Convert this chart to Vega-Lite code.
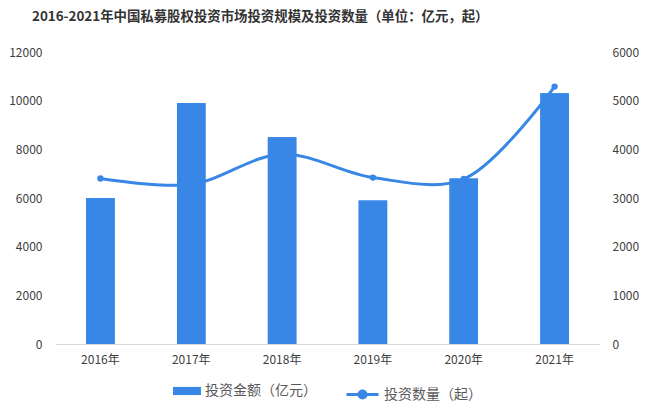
{
  "$schema": "https://vega.github.io/schema/vega-lite/v6.json",
  "width": 545,
  "height": 292,
  "autosize": {"type": "none"},
  "padding": {"left": 55, "top": 52, "right": 50, "bottom": 67},
  "title": {
    "text": "2016-2021年中国私募股权投资市场投资规模及投资数量（单位：亿元，起）",
    "anchor": "start",
    "frame": "group",
    "dx": -23,
    "offset": 23,
    "fontSize": 13.4,
    "fontWeight": "bold",
    "font": "Noto Sans CJK SC",
    "color": "#333333"
  },
  "data": {
    "values": [
      {"year": "2016年", "amount": 6000, "count": 3400},
      {"year": "2017年", "amount": 9900, "count": 3280},
      {"year": "2018年", "amount": 8500, "count": 3900},
      {"year": "2019年", "amount": 5900, "count": 3420},
      {"year": "2020年", "amount": 6800, "count": 3390},
      {"year": "2021年", "amount": 10300, "count": 5290}
    ]
  },
  "encoding": {
    "x": {
      "field": "year",
      "type": "nominal",
      "sort": null,
      "scale": {"paddingInner": 0.686, "paddingOuter": 0.343},
      "axis": {
        "title": null,
        "labelAngle": 0,
        "ticks": false,
        "domainColor": "#D9D9D9",
        "labelPadding": 10,
        "labelFontSize": 12,
        "labelColor": "#404040",
        "labelFont": "Noto Sans CJK SC"
      }
    }
  },
  "layer": [
    {
      "mark": {"type": "bar"},
      "encoding": {
        "y": {
          "field": "amount",
          "type": "quantitative",
          "scale": {"domain": [0, 12000], "nice": false},
          "axis": {
            "orient": "left",
            "title": null,
            "values": [0, 2000, 4000, 6000, 8000, 10000, 12000],
            "format": "d",
            "grid": false,
            "ticks": false,
            "domain": false,
            "labelPadding": 13,
            "labelFontSize": 12,
            "labelColor": "#404040",
            "labelFont": "Noto Sans CJK SC"
          }
        },
        "fill": {
          "datum": "投资金额（亿元）",
          "scale": {"range": ["#3886E6"]},
          "legend": {
            "title": null,
            "orient": "bottom",
            "offset": 12,
            "symbolType": "M-1,-0.29H1V0.29H-1Z",
            "symbolSize": 784,
            "symbolStrokeWidth": 0,
            "labelFontSize": 14,
            "labelColor": "#595959",
            "labelFont": "Noto Sans CJK SC",
            "labelOffset": 4
          }
        }
      }
    },
    {
      "mark": {"type": "line", "interpolate": "catmull-rom", "strokeWidth": 3, "color": "#3886E6"},
      "encoding": {
        "y": {
          "field": "count",
          "type": "quantitative",
          "scale": {"domain": [0, 6000], "nice": false},
          "axis": {
            "orient": "right",
            "title": null,
            "values": [0, 1000, 2000, 3000, 4000, 5000, 6000],
            "format": "d",
            "grid": false,
            "ticks": false,
            "domain": false,
            "labelPadding": 12,
            "labelFontSize": 12,
            "labelColor": "#404040",
            "labelFont": "Noto Sans CJK SC"
          }
        },
        "stroke": {
          "datum": "投资数量（起）",
          "scale": {"range": ["#3886E6"]},
          "legend": {
            "title": null,
            "orient": "bottom",
            "offset": 12,
            "symbolType": "M-1,0H1M0.22,0A0.22,0.22,0,1,1,-0.22,0A0.22,0.22,0,1,1,0.22,0",
            "symbolSize": 1024,
            "symbolStrokeWidth": 3,
            "symbolFillColor": "#3886E6",
            "labelFontSize": 14,
            "labelColor": "#595959",
            "labelFont": "Noto Sans CJK SC",
            "labelOffset": 4
          }
        }
      }
    },
    {
      "mark": {"type": "point", "filled": true, "size": 40, "opacity": 1, "color": "#3886E6"},
      "encoding": {
        "y": {"field": "count", "type": "quantitative", "scale": {"domain": [0, 6000], "nice": false}, "axis": null}
      }
    },
    {
      "mark": {"type": "bar", "color": "#3886E6"},
      "encoding": {
        "y": {"field": "amount", "type": "quantitative", "scale": {"domain": [0, 12000], "nice": false}, "axis": null}
      }
    }
  ],
  "resolve": {"scale": {"y": "independent"}},
  "config": {
    "view": {"stroke": null},
    "legend": {"layout": {"bottom": {"anchor": "middle", "direction": "horizontal", "margin": 28}}}
  }
}
